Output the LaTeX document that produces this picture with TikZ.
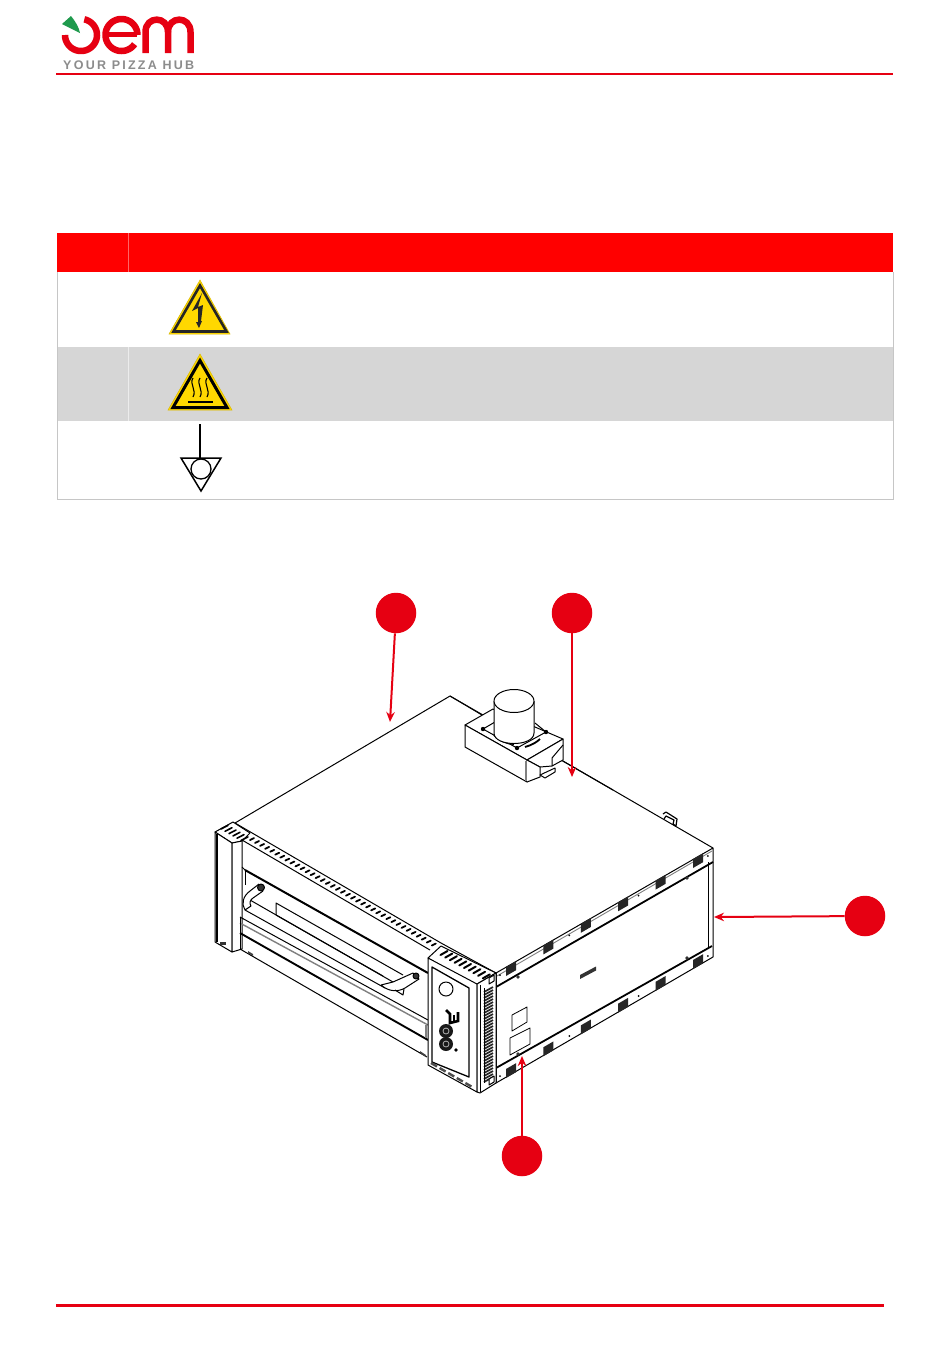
\documentclass[tikz,border=0pt]{standalone}
\usepackage{fontspec}
\usetikzlibrary{arrows.meta}
\setmainfont{Liberation Sans}
\newfontfamily\logofont[LetterSpace=18]{Liberation Sans}
\definecolor{oemred}{HTML}{E60012}
\definecolor{oemgreen}{HTML}{1F9A4D}
\definecolor{rowgray}{HTML}{D6D6D6}
\definecolor{signyellow}{HTML}{FFD800}
\tikzset{
  callout/.style={circle,fill=oemred,minimum size=40.5pt,inner sep=0pt},
  leader/.style={draw=oemred,line width=2pt,->,>={Stealth[length=10pt,width=8.5pt]}},
  oven/.style={line width=1pt,line join=round},
  heavy/.style={line width=1.8pt},
  slotline/.style={line width=1.8pt,line cap=round},
  logoline/.style={draw=oemred,line width=6.5pt}
}
\begin{document}
\begin{tikzpicture}[x=1pt,y=-1pt]
\useasboundingbox (0,0) rectangle (950,1369);
\fill[white] (0,0) rectangle (950,1369);

%logo
\draw[logoline,domain=78:-180,samples=60] plot ({81+16*cos(\x)},{35-16*sin(\x)});
\fill[oemgreen] (62,24) -- (71,16) .. controls (75,21) and (79,27) .. (80,33) -- cycle;
\draw[logoline,domain=0:325,samples=60] plot ({121.5+16*cos(\x)},{35-16*sin(\x)});
\draw[logoline,line width=5pt] (106,34) -- (137,34);
\draw[logoline] (145.5,53) -- (145.5,32) .. controls (145.5,15.5) and (168,15.5) .. (168,32) -- (168,53);
\draw[logoline] (168,32) .. controls (168,15.5) and (190.5,15.5) .. (190.5,32) -- (190.5,53);
\node[anchor=west,inner sep=0pt,text=gray!90] (hub) at (63,65) {\logofont\bfseries\fontsize{12.5}{12.5}\selectfont YOUR PIZZA HUB};
%traits
\fill[oemred] (56,73) rectangle (893,75.2);
\fill[oemred] (56,1304) rectangle (884,1306.8);

%tableau
\fill[red] (57,233) rectangle (893,272);
\fill[rowgray] (57,347) rectangle (893,421);
\draw[red!60!white,line width=0.5pt] (128,233) -- (128,272);
\draw[gray!15,line width=0.5pt] (128,347) -- (128,421);
\draw[gray!45,line width=0.6pt] (57,272) -- (57,499) -- (893,499) -- (893,272);

%danger electrique
\fill[signyellow,draw=signyellow!85!black,line width=0.5pt] (200,280) -- (169,334) -- (230,334) -- cycle;
\draw[black!85,line width=2.6pt,line join=miter] (200,285.5) -- (173.5,331.5) -- (226.5,331.5) -- cycle;
\fill[black!85] (202,293) -- (192,311) -- (198,308) -- (198,322) -- (196,322) -- (199,328) -- (202,321) -- (201,321) -- (203,305) -- (198,307) -- cycle;
%surface chaude
\fill[signyellow,draw=signyellow!85!black,line width=0.5pt] (200,354) -- (168,410) -- (232,410) -- cycle;
\draw[black,line width=3pt,line join=miter] (200,360.5) -- (173,407.5) -- (227,407.5) -- cycle;
\foreach \hx in {193,200,207}
  \draw[black,line width=1.1pt] (\hx,378) .. controls (\hx-4,384) and (\hx+4,390) .. (\hx,397);
\draw[black,line width=2pt] (188,402) -- (213,402);
%terre
\draw[black,line width=1.3pt] (200,424) -- (200,458);
\draw[black,line width=1.5pt] (181,458) -- (221,458) -- (201,491) -- cycle;
\draw[black,fill=white,line width=1.3pt] (201,469) circle (10);

%dessus du four
\draw[oven] (235,823) -- (450,696) -- (613,790) -- (713,848);
\draw[oven] (235,823) -- (441,943) -- (496,973);

%flanc droit
\draw[oven] (496,973) -- (713,848) -- (713,957) -- (496,1083);
\draw[gray,line width=0.9pt] (497,976) -- (712,851);
\draw[oven,heavy] (496,987) -- (713,862);
\draw[oven,heavy] (496,1068) -- (712,946);
\draw[oven] (708,862) -- (708,948);
\draw[oven] (496,973) -- (496,1083);
\foreach \i in {0,...,5} {
  \fill[black!85] ({506+37.4*\i},{967-21.6*\i}) -- ++(10,-5.8) -- ++(0,9) -- ++(-10,5.8) -- cycle;
  \fill[black!85] ({506+37.4*\i},{1069-21.8*\i}) -- ++(10,-5.8) -- ++(0,9) -- ++(-10,5.8) -- cycle;
}
\foreach \i in {0,...,3} {
  \fill ({500+69.3*\i},{975-39.7*\i}) circle (1);
  \fill ({500+69.3*\i},{1076-40*\i}) circle (1);
}
\foreach \dx/\dy in {518/977,687/878,518/1054,687/958}
  \fill[black!80] (\dx,\dy) circle (1.8);
\fill[black!80] (580,975) -- (596,966.5) -- (596,970.5) -- (580,979) -- cycle;
%etiquettes
\draw[oven,line width=0.8pt] (512,1015) -- (527,1007) -- (527,1022) -- (512,1031) -- cycle;
\draw[oven,line width=0.8pt] (510,1038) -- (530,1028) -- (530,1044) -- (510,1055) -- cycle;
%patte arriere
\draw[oven,line width=1.2pt] (663,814) -- (666,812) -- (677,819) -- (676,826) -- (673,824) -- (674,820) -- (666,816) -- (664,819);

%cheminee
\draw[oven,fill=white] (450,696) -- (482,715);
\draw[oven,fill=white] (465,725) -- (493,709) -- (563,739) -- (527,760) -- cycle;
\draw[oven,fill=white] (465,725) -- (527,760) -- (527,782) -- (465,747) -- cycle;
\draw[gray,line width=1.2pt] (526,761) -- (526,781);
\draw[oven,fill=white] (527,760) -- (563,739) -- (563,760) -- (552,766) -- (540,767) -- cycle;
\draw[oven] (563,745) -- (552,758) -- (552,766);
\draw[oven,fill=white] (527,782) -- (540,777) -- (540,767) -- (527,760);
\draw[oven,fill=white] (540,775) -- (555,768) -- (555,772) -- (545,778) -- cycle;
\draw[oven] (563,761) -- (613,790);
\draw[oven] (483,729) -- (495,722) (535,723) -- (546,732) -- (517,748) -- (483,729);
\foreach \bx/\by in {483/729,546/732,517/748} \fill (\bx,\by) circle (2.2);
\draw[heavy] (494,735) .. controls (500,741) and (507,744) .. (514,744);
\draw[heavy] (525,747) .. controls (532,745) and (537,742) .. (540,739);
\draw[oven,fill=white] (494,701) -- (494,733) .. controls (494,747) and (534,747) .. (534,733) -- (534,701);
\draw[oven,fill=white] (514,701) ellipse (20 and 11.5);

%colonne gauche
\draw[oven,fill=white] (215,832) -- (233,822) -- (250,833) -- (242,841) -- (232,843) -- cycle;
\draw[oven,fill=white] (215,832) -- (232,843) -- (232,952) -- (215,942) -- cycle;
\draw[oven,line width=1.4pt] (217,834) -- (217,942);
\draw[oven,fill=white] (232,843) -- (242,841) -- (242,949) -- (232,952) -- cycle;
\fill[black!80] (220,942) rectangle (226,945);
\foreach \i in {0,...,5}
  \draw[slotline,line width=1.6pt] ({221+4*\i},{829+2.3*\i}) -- ++(7,-3.6);

%bandeau
\draw[oven] (242,840) -- (430,950);
\foreach \i in {0,...,36}
  \draw[slotline] ({250+5.05*\i},{840+2.93*\i}) -- ++(4,-1.9);

%porte
\draw[oven,line width=2pt] (245,870) -- (428,973);
\draw[oven] (245,870) -- (242,867);
\draw[oven] (245,870) -- (245,885);
\draw[oven] (276,915) -- (276,903) -- (403,975);
\draw[oven] (276,915) -- (383,976);
\draw[oven] (250,900) -- (393,982);
\draw[oven] (245,910) -- (385,988);
%poignee
\draw[oven,fill=white] (259,884) -- (250,891) .. controls (243,896) and (241,904) .. (245,910) -- (251,906) .. controls (249,903) and (250,900) .. (253,898) -- (263,891);
\draw[oven,fill=black!80] (261,887.5) circle (3.5);
\draw[oven,fill=white] (381,985) -- (393,982) -- (413,973) -- (419,979) -- (405,988) .. controls (398,992) and (389,992) .. (381,985);
\draw[oven,fill=black!80] (416,976) circle (3);
\draw[oven] (395,990) -- (403,995) -- (404,989);
%bas de porte
\draw[oven] (240,917) -- (428,1020);
\draw[gray,line width=1.4pt] (240,923) -- (428,1025);
\draw[oven,line width=1.9pt] (240,933) -- (428,1040);
\draw[oven] (240,917) -- (240,950);
\draw[oven] (240,949) -- (427,1057);
\draw[gray,line width=1.8pt] (426,1025) -- (426,1038);
\fill[black!75] (248,951) -- (253,954) -- (253,956) -- (248,953) -- cycle;
\fill[black!75] (420,1051) -- (426,1055) -- (426,1057) -- (420,1053) -- cycle;

%colonne droite
\draw[oven,fill=white] (428,958) -- (441,946) -- (496,973) -- (477,984) -- (471,984) -- cycle;
\draw[oven,fill=white] (428,958) -- (477,984) -- (477,1092) -- (428,1065) -- cycle;
\draw[oven,fill=white] (477,984) -- (496,973) -- (496,1083) -- (480,1093) -- (477,1092) -- cycle;
\draw[oven,line width=1.3pt] (432,967) -- (469,988) -- (469,1077) -- (432,1062) -- cycle;
\draw[oven] (480,985) -- (480,1092);
\foreach \i in {0,...,9}
  \draw[slotline,line width=2pt] ({440.5+4.7*\i},{955+2.6*\i}) -- ++(7,-4);
\foreach \i in {0,...,30}
  \draw[black!85,line width=1.7pt] (484,{992+3*\i}) -- ++(9,-5);
\draw[oven] (484,988) -- (484,1083);
\foreach \i in {0,...,4}
  \draw[black!70,line width=2.4pt] ({431+8.6*\i},{1063+5*\i}) -- ++(6,3.5);
\draw[oven,fill=white] (489,978) -- (494,975) -- (494,981) -- (489,984) -- cycle;
\draw[oven,fill=white] (489,1079) -- (494,1076) -- (494,1082) -- (489,1085) -- cycle;
%commandes
\draw[oven] (446,989) circle (7);
\draw[black,line width=2.6pt] (446,1010) -- (450,1014) -- (450,1023) -- (458,1021) -- (458,1012);
\draw[black,line width=1.8pt] (454,1015) -- (454,1021);
\fill[black!90] (446,1031) circle (7);
\fill[black!90] (446,1044) circle (7);
\draw[gray!60,line width=0.8pt] (446,1031) circle (3);
\draw[gray!60,line width=0.8pt] (446,1044) circle (3);
\fill (456,1050) circle (1.8);

%reperes
\node[callout] (topcover) at (396,613) {};
\node[callout] (fluecover) at (572,613) {};
\node[callout] (sidepanel) at (865,916) {};
\node[callout] (platelabel) at (522,1156) {};
\coordinate (topend) at (390,722);
\coordinate (flueend) at (572,777);
\coordinate (sideend) at (714,917);
\coordinate (plateend) at (522,1056);
\draw[leader] (topcover) -- (topend);
\draw[leader] (fluecover) -- (flueend);
\draw[leader] (sidepanel) -- (sideend);
\draw[leader] (platelabel) -- (plateend);
\end{tikzpicture}
\end{document}
